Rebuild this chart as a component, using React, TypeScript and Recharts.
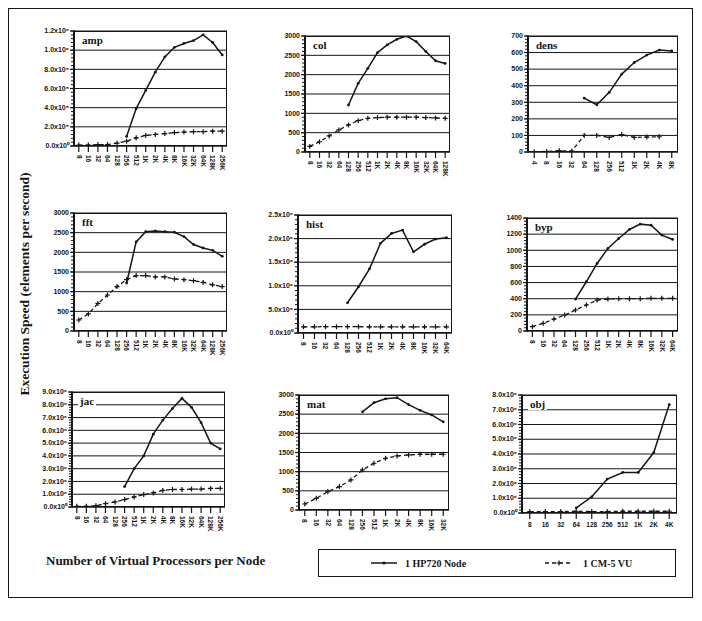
import React from "react";
import { Line, LineChart, ReferenceLine, XAxis, YAxis } from "recharts";

// virtual processors per node (category labels)
const vpLabels = ["8", "16", "32", "64", "128", "256", "512", "1K", "2K", "4K", "8K", "16K", "32K", "64K", "128K", "256K"];
const densLabels = ["4", "8", "16", "32", "64", "128", "256", "512", "1K", "2K", "4K", "8K"];

// elements per second, 1 HP720 node vs 1 CM-5 VU
const ampHP = [null, null, null, null, null, 1.0e5, 3.9e5, 5.8e5, 7.7e5, 9.3e5, 1.03e6, 1.07e6, 1.1e6, 1.16e6, 1.08e6, 9.5e5];
const ampCM = [1.0e4, 1.0e4, 1.5e4, 1.5e4, 3.0e4, 5.0e4, 8.5e4, 1.1e5, 1.2e5, 1.3e5, 1.4e5, 1.45e5, 1.5e5, 1.5e5, 1.55e5, 1.55e5];

const colHP = [null, null, null, null, 1215, 1775, 2165, 2570, 2770, 2915, 3000, 2855, 2600, 2360, 2290];
const colCM = [145, 265, 415, 570, 700, 810, 870, 890, 900, 900, 900, 900, 890, 880, 870];

const densHP = [null, null, null, null, 325, 285, 360, 470, 540, 585, 615, 610];
const densCM = [2, 3, 8, 5, 100, 100, 88, 105, 88, 90, 92, null];

const fftHP = [null, null, null, null, null, 1220, 2265, 2525, 2545, 2525, 2510, 2400, 2200, 2110, 2050, 1900];
const fftCM = [280, 435, 700, 915, 1130, 1305, 1410, 1410, 1375, 1375, 1325, 1305, 1280, 1235, 1175, 1130];

const histHP = [null, null, null, null, 6.4e5, 9.8e5, 1.36e6, 1.9e6, 2.11e6, 2.18e6, 1.72e6, 1.88e6, 1.99e6, 2.02e6];
const histCM = [1.3e5, 1.3e5, 1.35e5, 1.35e5, 1.35e5, 1.35e5, 1.3e5, 1.3e5, 1.3e5, 1.3e5, 1.3e5, 1.3e5, 1.3e5, 1.3e5];

const bypHP = [null, null, null, null, 396, 610, 837, 1023, 1146, 1258, 1324, 1311, 1188, 1134];
const bypCM = [54, 95, 148, 198, 260, 322, 383, 396, 400, 400, 400, 405, 405, 405];

const jacHP = [null, null, null, null, null, 1.6e6, 3.0e6, 4.0e6, 5.7e6, 6.8e6, 7.7e6, 8.5e6, 7.8e6, 6.6e6, 5.0e6, 4.55e6];
const jacCM = [5e4, 5e4, 1e5, 2.6e5, 4e5, 5.8e5, 7.9e5, 9.7e5, 1.1e6, 1.3e6, 1.37e6, 1.37e6, 1.4e6, 1.4e6, 1.45e6, 1.45e6];

const matHP = [null, null, null, null, null, 2560, 2800, 2900, 2930, 2750, 2600, 2480, 2300];
const matCM = [157, 305, 480, 610, 785, 1045, 1220, 1350, 1410, 1437, 1455, 1455, 1455];

const objHP = [null, null, null, 3.5e5, 1.1e6, 2.3e6, 2.75e6, 2.75e6, 4.1e6, 7.35e6];
const objCM = [1.0e5, 1.0e5, 1.0e5, 1.2e5, 1.0e5, 1.0e5, 1.2e5, 1.2e5, 1.2e5, 1.2e5];

const INK = "#161616";
const SERIF = "'Liberation Serif', 'DejaVu Serif', serif";

// box = plot area [left, top, right, bottom] on the page
const panels = [
  { name: "amp", cats: vpLabels.slice(0, 16), hp: ampHP, cm: ampCM, max: 1.2e6, step: 2e5, sci: true, box: [74, 31, 227, 146] },
  { name: "col", cats: vpLabels.slice(0, 15), hp: colHP, cm: colCM, max: 3000, step: 500, sci: false, box: [305, 36, 450, 152] },
  { name: "dens", cats: densLabels, hp: densHP, cm: densCM, max: 700, step: 100, sci: false, box: [528, 36, 678, 152] },
  { name: "fft", cats: vpLabels.slice(0, 16), hp: fftHP, cm: fftCM, max: 3000, step: 500, sci: false, box: [74, 213, 227, 331] },
  { name: "hist", cats: vpLabels.slice(0, 14), hp: histHP, cm: histCM, max: 2.5e6, step: 5e5, sci: true, box: [298, 215, 452, 333] },
  { name: "byp", cats: vpLabels.slice(0, 14), hp: bypHP, cm: bypCM, max: 1400, step: 200, sci: false, box: [527, 218, 678, 331] },
  { name: "jac", cats: vpLabels.slice(0, 16), hp: jacHP, cm: jacCM, max: 9e6, step: 1e6, sci: true, box: [72, 392, 225, 507] },
  { name: "mat", cats: vpLabels.slice(0, 13), hp: matHP, cm: matCM, max: 3000, step: 500, sci: false, box: [299, 395, 449, 510] },
  { name: "obj", cats: vpLabels.slice(0, 10), hp: objHP, cm: objCM, max: 8e6, step: 1e6, sci: true, box: [522, 395, 677, 513], flat: true },
];

const SUP = "⁰¹²³⁴⁵⁶⁷⁸⁹";
const fmtSci = (v: number) => {
  if (v === 0) return "0.0x10⁰";
  const e = Math.floor(Math.log10(v) + 1e-9);
  const m = v / Math.pow(10, e);
  return m.toFixed(1) + "x10" + String(e).split("").map(d => SUP[+d]).join("");
};

const YTick = (props: any) => {
  const { x, y, payload, step, sci } = props;
  const v = payload.value;
  const k = v / step;
  if (Math.abs(k - Math.round(k)) > 1e-6) return <g />;
  return (
    <g>
      <line x1={x + 1} x2={x + 6} y1={y} y2={y} stroke={INK} strokeWidth={1.2} />
      <text x={x} y={y} dy="0.32em" textAnchor="end" fontSize={7} fontWeight="bold" fontFamily="'Liberation Sans', Arial, sans-serif" fill={INK}>
        {sci ? fmtSci(v) : String(Math.round(v))}
      </text>
    </g>
  );
};

const XTick = (props: any) => {
  const { x, y, payload, flat } = props;
  if (flat) {
    return (
      <text x={x} y={y} dy="0.8em" textAnchor="middle" fontSize={6.5} fontWeight="bold" fontFamily="'Liberation Sans', Arial, sans-serif" fill={INK}>
        {payload.value}
      </text>
    );
  }
  return (
    <text transform={`translate(${x},${y}) rotate(90)`} dy="0.35em" textAnchor="start" fontSize={6.5} fontWeight="bold" fontFamily="'Liberation Sans', Arial, sans-serif" fill={INK}>
      {payload.value}
    </text>
  );
};

const PlusDot = (props: any) => {
  const { cx, cy, value, index } = props;
  if (cx == null || cy == null || value == null) return <g key={index} />;
  return <path key={index} d={`M${cx - 2.5},${cy}h5M${cx},${cy - 2.5}v5`} stroke={INK} strokeWidth={1.2} />;
};

const SmallDot = (props: any) => {
  const { cx, cy, value, index } = props;
  if (cx == null || cy == null || value == null) return <g key={index} />;
  return <circle key={index} cx={cx} cy={cy} r={1.4} fill={INK} />;
};

const Panel = ({ p }: { p: any }) => {
  const [l, t, r, b] = p.box;
  const W = r - l;
  const H = b - t;
  const ML = 50;
  const MT = 4;
  const MR = 4;
  const XH = 32;
  const pad = W / p.cats.length / 2;
  const data = p.cats.map((c: string, i: number) => ({ c, hp: p.hp[i], cm: p.cm[i] }));
  const minor = p.step / 5;
  const nMinor = Math.round(p.max / minor);
  const ticks = Array.from({ length: nMinor + 1 }, (_, i) => i * minor);
  const majors = Array.from({ length: Math.round(p.max / p.step) + 1 }, (_, i) => i * p.step);
  return (
    <>
      <div style={{ position: "absolute", left: l - ML, top: t - MT }}>
        <LineChart width={W + ML + MR} height={H + MT + XH} data={data} margin={{ top: MT, right: MR, left: 0, bottom: 0 }}>
          <XAxis
            dataKey="c"
            interval={0}
            padding={{ left: pad, right: pad }}
            height={XH}
            tickSize={6}
            tickMargin={3}
            tickLine={{ stroke: INK, strokeWidth: 1.2 }}
            axisLine={{ stroke: INK, strokeWidth: 1.5 }}
            tick={<XTick flat={p.flat} />}
          />
          <YAxis
            domain={[0, p.max]}
            allowDataOverflow
            ticks={ticks}
            interval={0}
            width={ML}
            tickSize={3}
            tickMargin={2}
            tickLine={{ stroke: INK, strokeWidth: 1 }}
            axisLine={{ stroke: INK, strokeWidth: 2 }}
            tick={<YTick step={p.step} sci={p.sci} />}
          />
          {majors.slice(1).map(v => (
            <ReferenceLine key={v} y={v} stroke={INK} strokeWidth={1} />
          ))}
          <Line
            dataKey="cm"
            stroke={INK}
            strokeWidth={1.3}
            strokeDasharray="4 3"
            dot={PlusDot}
            activeDot={false}
            isAnimationActive={false}
          />
          <Line dataKey="hp" stroke={INK} strokeWidth={1.5} dot={SmallDot} activeDot={false} isAnimationActive={false} />
        </LineChart>
      </div>
      <div
        style={{
          position: "absolute",
          left: l,
          top: t,
          width: W,
          height: H,
          border: `1px solid ${INK}`,
          boxSizing: "border-box",
          pointerEvents: "none",
        }}
      />
      <div
        style={{
          position: "absolute",
          left: l + 6,
          top: t + 3,
          padding: "0 2px",
          background: "#fff",
          fontFamily: SERIF,
          fontSize: 11,
          fontWeight: "bold",
          lineHeight: "12px",
          color: INK,
        }}
      >
        {p.name}
      </div>
    </>
  );
};

const App = () => {
  return (
    <div style={{ position: "absolute", left: 0, top: 0, width: 702, height: 621, background: "#fff", overflow: "hidden" }}>
      {/* outer frame */}
      <div style={{ position: "absolute", left: 8, top: 8, width: 685, height: 590, border: `1px solid ${INK}`, boxSizing: "border-box" }} />

      {panels.map(p => (
        <Panel key={p.name} p={p} />
      ))}

      {/* axis titles */}
      <div
        style={{
          position: "absolute",
          left: 25,
          top: 284,
          transform: "translate(-50%, -50%) rotate(-90deg)",
          whiteSpace: "nowrap",
          fontFamily: SERIF,
          fontSize: 13.5,
          fontWeight: "bold",
          color: INK,
        }}
      >
        Execution Speed (elements per second)
      </div>
      <div
        style={{
          position: "absolute",
          left: 46,
          top: 553,
          whiteSpace: "nowrap",
          fontFamily: SERIF,
          fontSize: 13,
          fontWeight: "bold",
          color: INK,
        }}
      >
        Number of Virtual Processors per Node
      </div>

      {/* legend */}
      <div
        style={{
          position: "absolute",
          left: 318,
          top: 549,
          width: 358,
          height: 28,
          border: `1px solid ${INK}`,
          boxSizing: "border-box",
        }}
      >
        <svg width={356} height={26} style={{ position: "absolute", left: 0, top: 0 }}>
          <line x1={52} x2={78} y1={13} y2={13} stroke={INK} strokeWidth={1.5} />
          <circle cx={65} cy={13} r={1.6} fill={INK} />
          <text x={86} y={13} dy="0.35em" fontSize={10} fontWeight="bold" fontFamily={SERIF} fill={INK}>
            1 HP720 Node
          </text>
          <line x1={226} x2={254} y1={13} y2={13} stroke={INK} strokeWidth={1.3} strokeDasharray="4 3" />
          <path d="M237.5,13h5M240,10.5v5" stroke={INK} strokeWidth={1.2} />
          <text x={264} y={13} dy="0.35em" fontSize={10} fontWeight="bold" fontFamily={SERIF} fill={INK}>
            1 CM-5 VU
          </text>
        </svg>
      </div>
    </div>
  );
};

export default App;
